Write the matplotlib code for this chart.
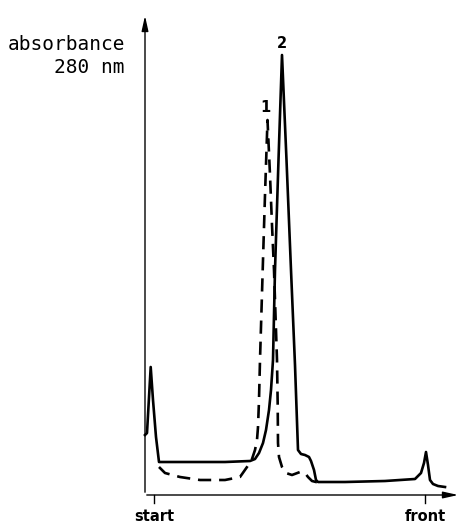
import matplotlib
matplotlib.use("Agg")
import matplotlib.pyplot as plt

# Data (x: migration distance, y: absorbance, arbitrary units)
solid_x = [0, 2, 5.7, 8, 11, 14, 18, 40, 80, 105, 110, 114, 118, 121, 124, 126, 128,
           130, 133.5, 137, 141.5, 146, 150, 153, 156, 160, 164, 166, 169, 171, 173, 176,
           200, 240, 270, 276, 279, 281, 283, 285, 288, 293, 300]
solid_y = [60, 62, 128, 95, 58, 33, 33, 33, 33, 34, 36, 42, 52, 65, 85, 105, 135,
           225, 335, 440, 335, 225, 130, 45, 41, 40, 38, 34, 25, 15, 13, 13,
           13, 14, 16, 22, 32, 43, 30, 15, 11, 9, 8]
dashed_x = [14, 20, 35, 55, 80, 95, 102, 107, 110, 112, 113, 114, 115, 116.5, 118,
            120, 122.5, 125, 127, 129, 130.5, 132, 132.7, 133, 134, 137, 141, 147, 155,
            160, 163, 167, 171, 175]
dashed_y = [28, 22, 18, 15, 15, 18, 28, 36, 45, 55, 68, 95, 135, 185, 235,
            300, 375, 320, 270, 225, 180, 135, 90, 52, 38, 28, 22, 20, 23,
            22, 18, 14, 13, 13]
peak_labels = ["1", "2"]
peak_label_x = [120, 137]
peak_label_y = [388, 451]
axis_tick_labels = ["start", "front"]
axis_tick_x = [9, 280]

fig = plt.figure(figsize=(4.68, 5.26), dpi=100)
ax = fig.add_axes([0, 0, 1, 1])
ax.set_xlim(-145, 323)
ax.set_ylim(-31, 495)
ax.axis("off")

ax.plot(solid_x, solid_y, color="black", lw=1.9, solid_joinstyle="round")
ax.plot(dashed_x, dashed_y, color="black", lw=1.9, dashes=(5, 3))

# axes with arrows
ax.annotate("", xy=(0, 482), xytext=(0, 0),
            arrowprops=dict(arrowstyle="-|>,head_length=0.9,head_width=0.2", color="black", lw=1.0))
ax.annotate("", xy=(316, 0), xytext=(-1, 0),
            arrowprops=dict(arrowstyle="-|>,head_length=0.9,head_width=0.2", color="black", lw=1.0))

for lab, x in zip(axis_tick_labels, axis_tick_x):
    ax.plot([x, x], [0, -8], color="black", lw=1.0)
    ax.text(x, -14, lab, ha="center", va="top", fontsize=10.5, fontweight="bold",
            family="DejaVu Sans")

for lab, x, y in zip(peak_labels, peak_label_x, peak_label_y):
    ax.text(x, y, lab, ha="center", va="center", fontsize=10.5, fontweight="bold",
            family="DejaVu Sans")

ax.text(-20, 460, "absorbance\n280 nm", ha="right", va="top", fontsize=14,
        family="DejaVu Sans Mono", linespacing=1.25)

fig.savefig("out.png", dpi=100)
